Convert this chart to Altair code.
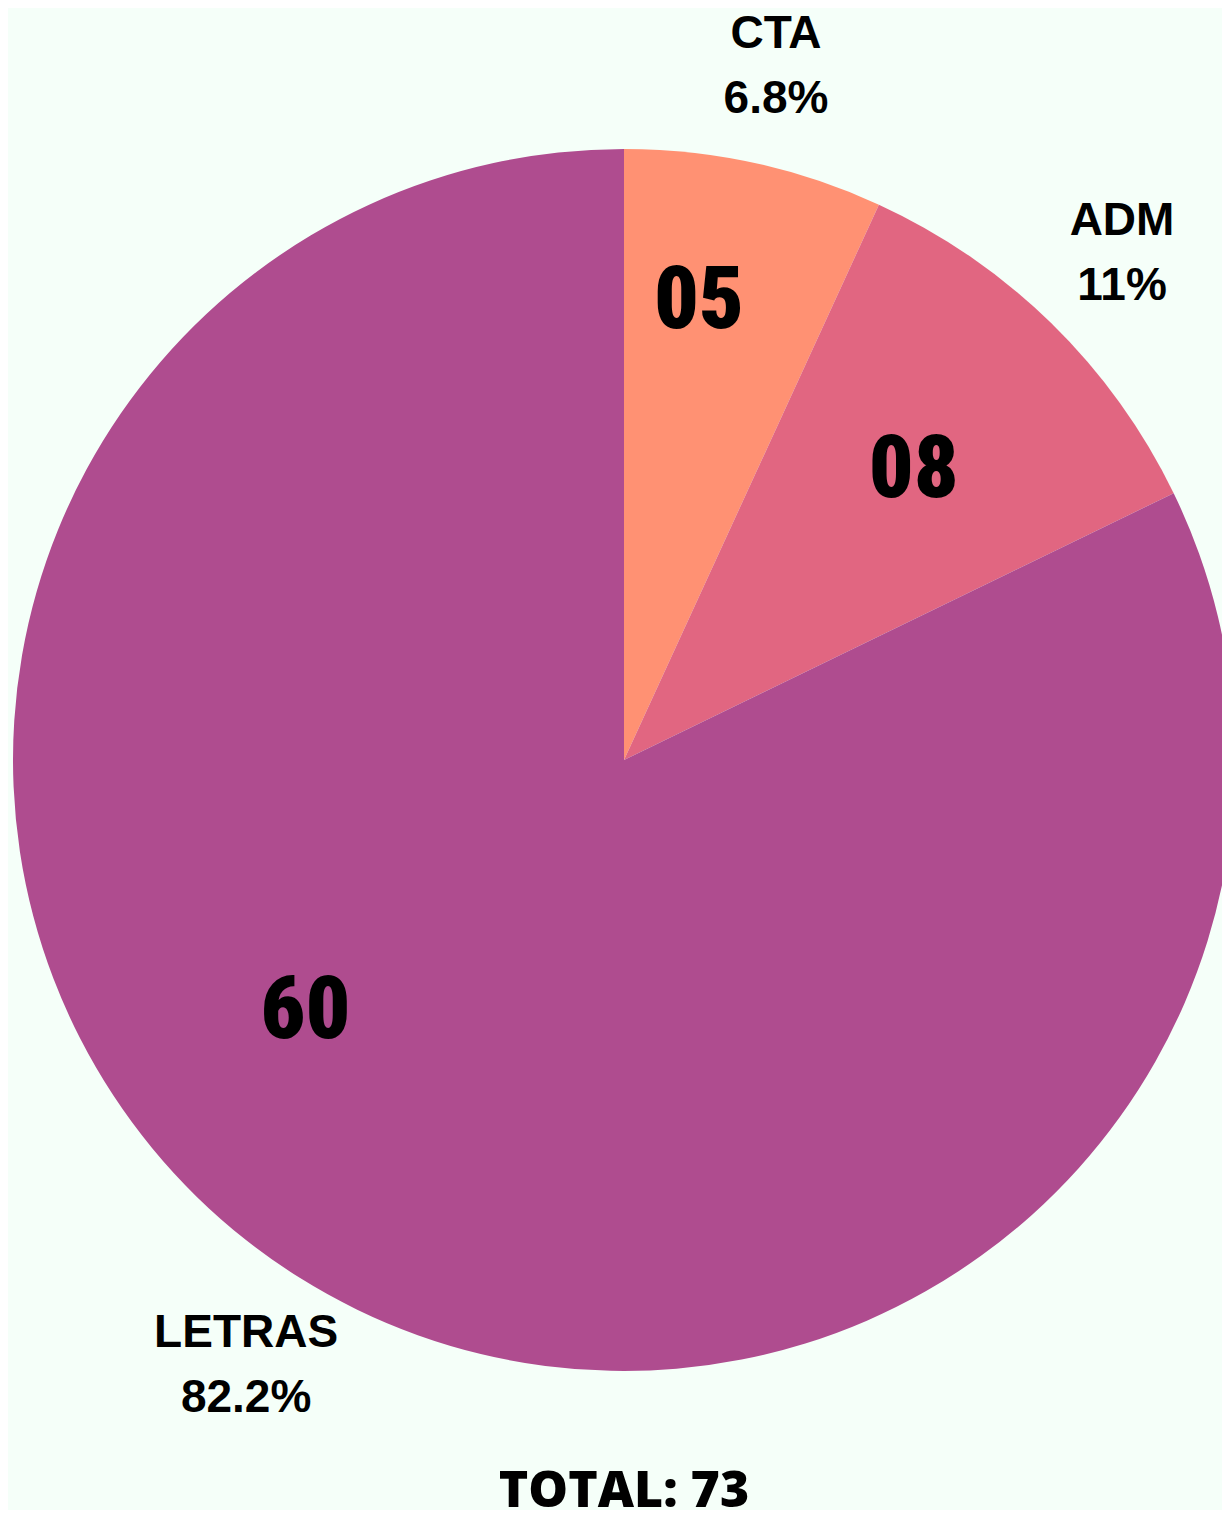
import altair as alt
import pandas as pd

categories = ["CTA", "ADM", "LETRAS"]
values = [5, 8, 60]
colors = ["#FF9173", "#E16681", "#AF4C8F"]
order = [1, 2, 3]

df = pd.DataFrame({"cat": categories, "value": values, "ord": order})

W, H = 1214, 1502
CX, CY = 616, 752
R = 611
BG = "#F5FFF9"

base = alt.Chart(df).transform_joinaggregate(
    total="sum(value)"
).transform_calculate(
    pct="100 * datum.value / datum.total",
    num="format(datum.value, '02d')",
    outer="[datum.cat, format(datum.pct, '.1~f') + '%']",
)

theta = alt.Theta("value:Q", stack=True, sort=None)
order_enc = alt.Order("ord:Q")

pie = base.mark_arc(radius=R, stroke=None).encode(
    theta=theta,
    order=order_enc,
    color=alt.Color("cat:N", scale=alt.Scale(domain=categories, range=colors), legend=None),
    x=alt.value(CX),
    y=alt.value(CY),
)

outer = base.mark_text(
    radius=712, font="Liberation Sans", fontWeight="bold", fontSize=46,
    lineHeight=65, align="center", baseline="middle", color="black", dy=-30,
).encode(
    theta=theta, order=order_enc, text="outer:N",
    x=alt.value(CX), y=alt.value(CY),
)

offsets = {"CTA": (-19, -28), "ADM": (-18, 25), "LETRAS": (-85, -121)}
inner_layers = []
for c in categories:
    dx, dy = offsets[c]
    inner_layers.append(
        base.mark_text(
            radius=440,
            font="Roboto Condensed, Noto Sans Condensed, DejaVu Sans Condensed, Liberation Sans Narrow, Roboto",
            fontWeight=900, fontSize=88, align="center", baseline="middle",
            color="black", dx=dx, dy=dy,
        ).encode(
            theta=theta, order=order_enc,
            text=alt.condition(alt.datum.cat == c, "num:N", alt.value("")),
            x=alt.value(CX), y=alt.value(CY),
        )
    )

total = alt.Chart(df).transform_aggregate(total="sum(value)").transform_calculate(
    label="'TOTAL: ' + datum.total"
).mark_text(
    font="Open Sans", fontWeight=800, fontSize=50, align="center",
    baseline="alphabetic", color="black",
).encode(text="label:N", x=alt.value(CX), y=alt.value(1499))

chart = alt.layer(pie, outer, *inner_layers, total).properties(
    width=W, height=H, autosize=alt.AutoSizeParams(type="none"), padding=0,
    background=BG,
).configure_view(stroke=None)

chart.save("out.html", embed_options={"renderer": "svg", "actions": False})
